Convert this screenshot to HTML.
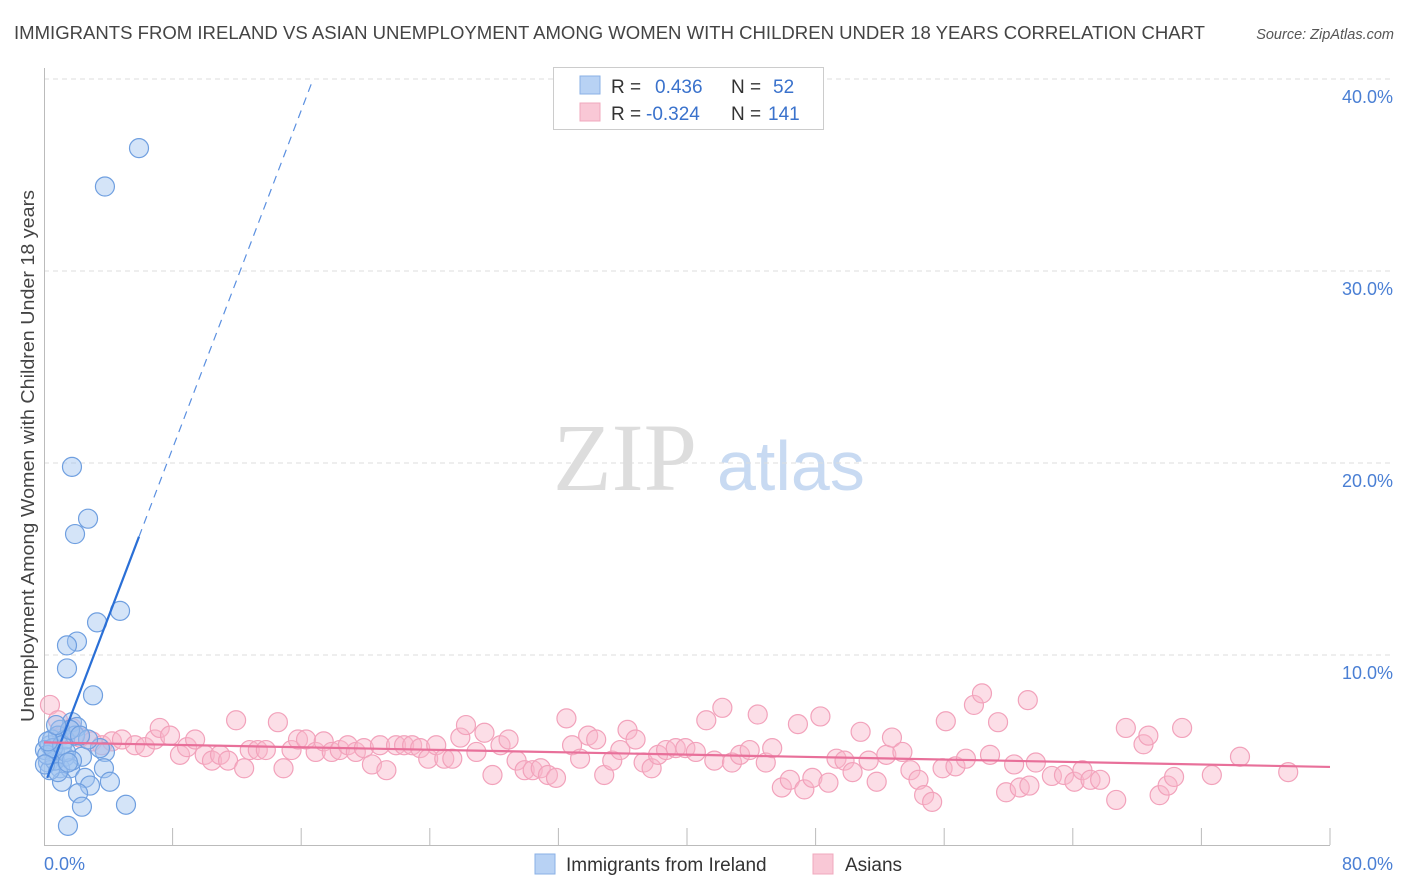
<!DOCTYPE html>
<html><head><meta charset="utf-8"><style>
body{margin:0;background:#fff;font-family:"Liberation Sans",sans-serif;}
svg{display:block}
</style></head><body>
<svg id="chart" width="1406" height="892">
<text x="14" y="39" font-size="18.5" fill="#444" textLength="1191" lengthAdjust="spacingAndGlyphs">IMMIGRANTS FROM IRELAND VS ASIAN UNEMPLOYMENT AMONG WOMEN WITH CHILDREN UNDER 18 YEARS CORRELATION CHART</text>
<text x="1394" y="39" font-size="14.5" fill="#555" font-style="italic" text-anchor="end">Source: ZipAtlas.com</text>
<text transform="translate(34,456) rotate(-90)" font-size="18.5" fill="#444" text-anchor="middle" textLength="532" lengthAdjust="spacingAndGlyphs">Unemployment Among Women with Children Under 18 years</text>
<g><text x="553" y="490" font-size="96" fill="#ddd" font-family="Liberation Serif,serif">ZIP</text><text x="717" y="490" font-size="70" fill="#c8daf2">atlas</text></g>
<g id="grid"></g><g id="axes"></g><g id="pts"></g><g id="lines"></g>
<g>
<rect x="553.5" y="67.5" width="270" height="62" fill="#fff" stroke="#ccc"/>
<rect x="580" y="76" width="20" height="18" fill="#b8d2f4" stroke="#8ab0e6"/>
<rect x="580" y="103" width="20" height="18" fill="#f9c8d6" stroke="#f0a8bd"/>
<text x="611" y="93" font-size="19" fill="#333">R = </text><text x="655" y="93" font-size="19" fill="#3a72cc">0.436</text>
<text x="731" y="93" font-size="19" fill="#333">N = </text><text x="773" y="93" font-size="19" fill="#3a72cc">52</text>
<text x="611" y="120" font-size="19" fill="#333">R = </text><text x="646" y="120" font-size="19" fill="#3a72cc">-0.324</text>
<text x="731" y="120" font-size="19" fill="#333">N = </text><text x="768" y="120" font-size="19" fill="#3a72cc">141</text>
</g>
<g>
<rect x="535" y="854" width="20" height="20" fill="#b8d2f4" stroke="#8ab0e6"/>
<text x="566" y="871" font-size="19" fill="#333">Immigrants from Ireland</text>
<rect x="813" y="854" width="20" height="20" fill="#f9c8d6" stroke="#f0a8bd"/>
<text x="845" y="871" font-size="19" fill="#333">Asians</text>
</g>
</svg>
<script>
const yTicks=[10,20,30,40];
const yTickLabels=["10.0%","20.0%","30.0%","40.0%"];
const xLabels=["0.0%","80.0%"];
const blueX=[5.91,3.79,1.74,2.74,1.93,4.73,3.30,2.05,1.43,1.43,3.05,1.74,2.05,1.0,0.37,0.68,1.31,2.36,3.79,0.25,1.0,1.62,2.55,1.12,3.73,2.86,4.1,2.12,2.36,5.1,1.49,0.5,0.87,1.31,0.06,0.37,3.48,1.93,0.68,2.74,0.2,0.56,1.12,1.62,2.24,0.06,0.87,1.37,1.74,0.25,0.75,1.49];
const blueY=[36.4,34.4,19.8,17.1,16.3,12.3,11.7,10.7,10.5,9.3,7.9,6.5,6.25,6.1,5.3,4.95,4.7,4.7,4.95,4.4,4.1,4.1,3.6,3.4,4.1,3.2,3.4,2.8,2.1,2.2,1.1,5.6,5.8,5.6,5.05,4.0,5.15,5.8,4.5,5.6,4.8,5.15,5.3,6.1,5.8,4.3,3.9,4.95,4.5,5.5,6.35,4.4];
const pinkX=[0.37,0.87,1.12,1.74,2.24,2.99,3.61,4.23,4.85,5.66,6.28,6.9,7.2,7.84,8.46,8.9,9.4,10.0,10.45,10.95,11.45,11.95,12.45,12.8,13.3,13.8,14.55,14.9,15.4,15.8,16.3,16.9,17.4,17.9,18.4,18.9,19.4,19.9,20.4,20.9,21.3,21.9,22.4,22.9,23.4,23.9,24.4,24.9,25.4,25.9,26.25,26.9,27.4,27.9,28.4,28.9,29.4,29.9,30.4,30.9,31.35,31.85,32.5,32.85,33.35,33.85,34.35,34.85,35.35,35.85,36.3,36.8,37.3,37.8,38.2,38.7,39.3,39.9,40.55,41.2,41.7,42.2,42.8,43.3,43.9,44.4,44.9,45.3,45.9,46.4,46.9,47.3,47.8,48.3,48.8,49.3,49.8,50.3,50.8,51.3,51.8,52.4,52.75,53.4,53.9,54.4,54.75,55.25,55.9,56.1,56.7,57.35,57.85,58.35,58.85,59.35,59.85,60.35,60.7,61.2,61.7,62.7,63.45,64.1,64.6,65.1,65.7,66.7,67.3,68.4,68.7,69.4,69.9,70.3,70.8,72.65,74.4,77.4,61.3];
const pinkY=[7.4,6.6,5.8,6.2,5.7,5.5,5.3,5.5,5.6,5.3,5.2,5.6,6.2,5.8,4.8,5.2,5.6,4.8,4.5,4.8,4.5,6.6,4.1,5.05,5.05,5.05,6.5,4.1,5.05,5.6,5.6,4.95,5.5,4.95,5.05,5.3,4.95,5.15,4.3,5.3,4.0,5.3,5.3,5.3,5.15,4.6,5.3,4.6,4.6,5.7,6.35,4.95,5.95,3.75,5.3,5.6,4.5,4.0,4.0,4.1,3.75,3.6,6.7,5.3,4.6,5.8,5.6,3.75,4.5,5.05,6.1,5.6,4.4,4.1,4.8,5.05,5.15,5.15,4.95,6.6,4.5,7.25,4.4,4.8,5.05,6.9,4.4,5.15,3.1,3.5,6.4,3.0,3.6,6.8,3.35,4.6,4.5,3.9,6.0,4.5,3.4,4.8,5.7,4.95,4.0,3.5,2.7,2.35,4.1,6.55,4.2,4.6,7.4,8.0,4.8,6.5,2.85,4.3,3.1,7.65,4.4,3.7,3.75,3.4,4.0,3.5,3.5,2.45,6.2,5.35,5.8,2.7,3.2,3.65,6.2,3.75,4.7,3.9,3.2];
const blueTrend=[3.16,2.2];   // intercept, slope
const pinkTrend=[5.45,-0.016];
const X=v=>44+v*16.075, Y=v=>847-v*19.2;
const NS="http://www.w3.org/2000/svg";
function mk(tag,attrs,parent){const e=document.createElementNS(NS,tag);for(const k in attrs)e.setAttribute(k,attrs[k]);document.getElementById(parent).appendChild(e);return e;}
yTicks.forEach((t,i)=>{
 const g=mk('line',{x1:44,x2:1393,y1:Y(t),y2:Y(t),stroke:'#ddd','stroke-dasharray':'5,4'},'grid');
 
 
 const l=mk('text',{x:1393,y:Y(t)+24,'text-anchor':'end','font-size':18,fill:'#4a7fd4'},'grid');
 l.textContent=yTickLabels[i];
 
 
});
const ax=mk('path',{d:'M44.5 68V845.5H1330',stroke:'#bbb',fill:'none'},'axes');


for(let i=1;i<=10;i++){const t=mk('line',{x1:44+i*128.6,x2:44+i*128.6,y1:828,y2:845,stroke:'#bbb'},'axes');
 
 }
const xl0=mk('text',{x:44,y:870,'font-size':18,fill:'#4a7fd4'},'axes');xl0.textContent=xLabels[0];


const xl1=mk('text',{x:1393,y:870,'font-size':18,fill:'#4a7fd4','text-anchor':'end'},'axes');xl1.textContent=xLabels[1];


pinkX.forEach((x,i)=>{const c=mk('circle',{cx:X(x),cy:Y(pinkY[i]),r:9.5,fill:'rgba(248,182,202,0.45)',stroke:'#f2a2bb','stroke-width':1.2},'pts');
 
 });
blueX.forEach((x,i)=>{const c=mk('circle',{cx:X(x),cy:Y(blueY[i]),r:9.5,fill:'rgba(160,195,240,0.45)',stroke:'#6f9fe0','stroke-width':1.2},'pts');
 
 });
const bx0=0.2,bx1=Math.max(...blueX),bx2=(40-blueTrend[0])/blueTrend[1];
const bf=v=>blueTrend[0]+blueTrend[1]*v;
const bl=mk('line',{x1:X(bx0),y1:Y(bf(bx0)),x2:X(bx1),y2:Y(bf(bx1)),stroke:'#2a6fd6','stroke-width':2.2},'lines');


const bd=mk('line',{x1:X(bx1),y1:Y(bf(bx1)),x2:X(bx2),y2:Y(bf(bx2)),stroke:'#5a8fe0','stroke-width':1.2,'stroke-dasharray':'8,6'},'lines');


const pf=v=>pinkTrend[0]+pinkTrend[1]*v;
const pl=mk('line',{x1:X(0),y1:Y(pf(0)),x2:X(80),y2:Y(pf(80)),stroke:'#e8709a','stroke-width':2.2},'lines');


</script>
</body></html>
